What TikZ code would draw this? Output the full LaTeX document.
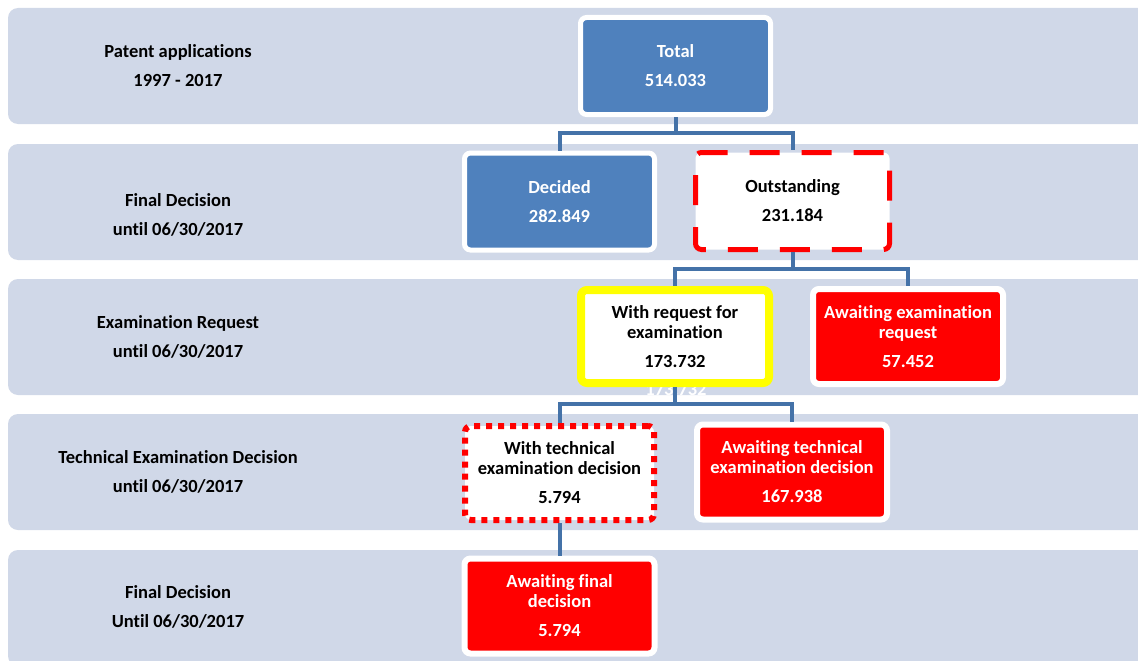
\documentclass[tikz,border=0pt]{standalone}
\usepackage{fontspec}
\setmainfont{Carlito}[Ligatures=NoCommon]
\definecolor{bandgray}{RGB}{208,216,232}
\definecolor{boxblue}{RGB}{79,129,189}
\definecolor{linkblue}{RGB}{68,114,168}
\definecolor{boxred}{RGB}{255,0,0}
\definecolor{markyellow}{RGB}{255,255,0}
\tikzset{
  band/.style={fill=bandgray,rounded corners=10pt},
  lbl/.style={align=center,font=\bfseries\fontsize{18.5}{20}\selectfont},
  box/.style={lbl,rounded corners=6pt,inner sep=0pt},
  bluebox/.style={box,fill=boxblue,draw=white,line width=5pt,text=white,minimum width=190pt,minimum height=97pt},
  redbox/.style={box,fill=boxred,draw=white,line width=6pt,text=white,minimum width=190pt,minimum height=95pt},
  conn/.style={draw=linkblue,line width=4pt},
}
\begin{document}
\begin{tikzpicture}[x=1pt,y=-1pt]
  \useasboundingbox (0,0) rectangle (1138,661);
  \clip (0,0) rectangle (1138,661);
  \fill[white] (0,0) rectangle (1138,661);
  \foreach \y in {8,144,279,414,550}
    \fill[band] (8,\y) rectangle (1170,\y+116);

  \node[lbl] (lab1) at (178,66) {Patent applications\\[9pt]1997 - 2017};
  \node[lbl] (lab2) at (178,215) {Final Decision\\[9pt]until 06/30/2017};
  \node[lbl] (lab3) at (178,337) {Examination Request\\[9pt]until 06/30/2017};
  \node[lbl] (lab4) at (178,472) {Technical Examination Decision\\[9pt]until 06/30/2017};
  \node[lbl] (lab5) at (178,607) {Final Decision\\[9pt]Until 06/30/2017};

  \node[lbl,text=white] (ghost) at (676,389) {173.732};

  \node[bluebox] (total) at (675.5,66) {Total\\[9pt]514.033};
  \node[bluebox] (decided) at (559.5,201.5) {Decided\\[9pt]282.849};
  \node[box,fill=white,draw=boxred,line width=5pt,dash pattern=on 30pt off 22pt,
        minimum width=194pt,minimum height=97pt] (outst) at (792.5,201) {Outstanding\\[9pt]231.184};
  \node[box,fill=white,draw=markyellow,line width=8pt,
        minimum width=188pt,minimum height=93pt] (withreq) at (675,336.5) {With request for\\examination\\[9pt]173.732};
  \node[redbox] (awreq) at (908,336.5) {Awaiting examination\\request\\[9pt]57.452};
  \node[box,fill=white,draw=boxred,line width=6pt,dash pattern=on 6pt off 6pt,
        minimum width=189pt,minimum height=94pt] (withtech) at (559.5,473) {With technical\\examination decision\\[9pt]5.794};
  \node[redbox] (awtech) at (792,472) {Awaiting technical\\examination decision\\[9pt]167.938};
  \node[redbox] (awfinal) at (559.5,606) {Awaiting final\\decision\\[9pt]5.794};

  \draw[conn] (total.south) -- ++(0,16) coordinate (j1);
  \draw[conn] (j1) -| (decided.north);
  \draw[conn] (j1) -| (outst.north);
  \draw[conn] (outst.south) -- ++(0,17) coordinate (j2);
  \draw[conn] (j2) -| (withreq.north);
  \draw[conn] (j2) -| (awreq.north);
  \draw[conn] (withreq.south) -- ++(0,17) coordinate (j3);
  \draw[conn] (j3) -| (withtech.north);
  \draw[conn] (j3) -| (awtech.north);
  \draw[conn] (withtech.south) -- (awfinal.north);
\end{tikzpicture}
\end{document}
